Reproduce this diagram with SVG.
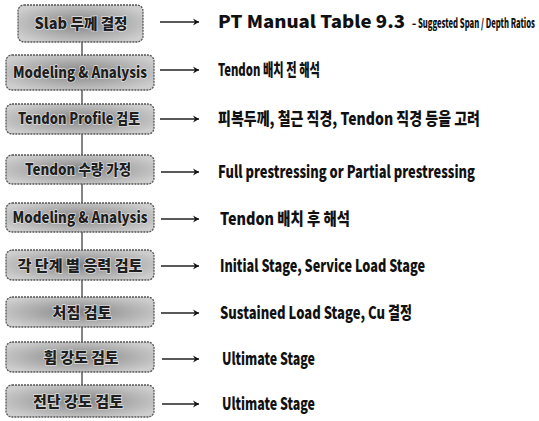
<svg xmlns="http://www.w3.org/2000/svg" width="539" height="421" viewBox="0 0 539 421">
<style>
.box{fill:url(#g);stroke:#555;stroke-width:1.3;stroke-dasharray:2 1}
.bt{font-family:"Noto Sans CJK KR","Liberation Sans",sans-serif;font-weight:900;font-size:15px;fill:#1e1e1e;text-anchor:middle;stroke:#e0e0e0;stroke-width:1.4;paint-order:stroke}
.rt{font-family:"Noto Sans CJK KR","Liberation Sans",sans-serif;font-weight:900;font-size:17px;fill:#111}
.sm{font-size:12.5px}
.ln{stroke:#333;stroke-width:1.2;fill:none}
.ar{stroke:#222;stroke-width:1.3;fill:none;marker-end:url(#ah)}
</style>
<defs>
<radialGradient id="g" cx="50%" cy="50%" r="60%">
<stop offset="0" stop-color="#858585"/>
<stop offset="1" stop-color="#cecece"/>
</radialGradient>
<marker id="ah" markerWidth="8" markerHeight="8" refX="7" refY="4" orient="auto" markerUnits="userSpaceOnUse">
<path d="M1,0.5 L7,4 L1,7.5 L3,4 Z" fill="#111"/>
</marker>
</defs>
<rect width="539" height="421" fill="#fff"/>
<g id="connectors">
<line class="ln" x1="82" y1="42" x2="82" y2="55"/>
<line class="ln" x1="82" y1="90" x2="82" y2="104"/>
<line class="ln" x1="82" y1="134" x2="82" y2="155"/>
<line class="ln" x1="82" y1="184" x2="82" y2="203"/>
<line class="ln" x1="82" y1="232" x2="82" y2="250"/>
<line class="ln" x1="82" y1="280" x2="82" y2="297"/>
<line class="ln" x1="82" y1="327" x2="82" y2="342"/>
<line class="ln" x1="82" y1="372" x2="82" y2="385"/>
<line class="ar" x1="160" y1="22" x2="199" y2="22"/>
<line class="ar" x1="160" y1="70" x2="199" y2="70"/>
<line class="ar" x1="160" y1="119" x2="199" y2="119"/>
<line class="ar" x1="161" y1="172" x2="199" y2="172"/>
<line class="ar" x1="161" y1="219" x2="199" y2="219"/>
<line class="ar" x1="161" y1="266" x2="199" y2="266"/>
<line class="ar" x1="161" y1="313" x2="199" y2="313"/>
<line class="ar" x1="162" y1="359" x2="199" y2="359"/>
<line class="ar" x1="162" y1="404" x2="199" y2="404"/>
</g>
<g id="n1"><rect class="box" x="18" y="5" width="125" height="37" rx="6"/><text class="bt" x="81" y="29" textLength="93" lengthAdjust="spacingAndGlyphs">Slab 두께 결정</text></g>
<g id="n2"><rect class="box" x="6" y="55" width="148" height="35" rx="6"/><text class="bt" x="80" y="78" textLength="134" lengthAdjust="spacingAndGlyphs">Modeling &amp; Analysis</text></g>
<g id="n3"><rect class="box" x="6" y="104" width="148" height="30" rx="6"/><text class="bt" x="79" y="124" textLength="122" lengthAdjust="spacingAndGlyphs">Tendon Profile 검토</text></g>
<g id="n4"><rect class="box" x="6" y="155" width="148" height="29" rx="6"/><text class="bt" x="78" y="175" textLength="106" lengthAdjust="spacingAndGlyphs">Tendon 수량 가정</text></g>
<g id="n5"><rect class="box" x="6" y="203" width="148" height="29" rx="6"/><text class="bt" x="80" y="223" textLength="135" lengthAdjust="spacingAndGlyphs">Modeling &amp; Analysis</text></g>
<g id="n6"><rect class="box" x="6" y="250" width="148" height="30" rx="6"/><text class="bt" x="80" y="271" textLength="125" lengthAdjust="spacingAndGlyphs">각 단계 별 응력 검토</text></g>
<g id="n7"><rect class="box" x="6" y="297" width="148" height="30" rx="6"/><text class="bt" x="82" y="318" textLength="59" lengthAdjust="spacingAndGlyphs">처짐 검토</text></g>
<g id="n8"><rect class="box" x="6" y="342" width="148" height="30" rx="6"/><text class="bt" x="81" y="363" textLength="75" lengthAdjust="spacingAndGlyphs">휨 강도 검토</text></g>
<g id="n9"><rect class="box" x="6" y="385" width="148" height="32" rx="6"/><text class="bt" x="78" y="407" textLength="90" lengthAdjust="spacingAndGlyphs">전단 강도 검토</text></g>
<g id="labels">
<text class="rt" x="218" y="28" textLength="187" lengthAdjust="spacingAndGlyphs">PT  Manual Table 9.3</text>
<text class="rt sm" x="412" y="28" textLength="123" lengthAdjust="spacingAndGlyphs">– Suggested Span / Depth Ratios</text>
<text class="rt" x="218" y="76" textLength="102" lengthAdjust="spacingAndGlyphs">Tendon  배치 전 해석</text>
<text class="rt" x="218" y="125" textLength="262" lengthAdjust="spacingAndGlyphs">피복두께, 철근 직경, Tendon 직경 등을 고려</text>
<text class="rt" x="218" y="178" textLength="257" lengthAdjust="spacingAndGlyphs">Full prestressing or Partial prestressing</text>
<text class="rt" x="220" y="225" textLength="130" lengthAdjust="spacingAndGlyphs">Tendon  배치 후 해석</text>
<text class="rt" x="220" y="272" textLength="205" lengthAdjust="spacingAndGlyphs">Initial Stage, Service Load Stage</text>
<text class="rt" x="220" y="319" textLength="192" lengthAdjust="spacingAndGlyphs">Sustained Load Stage, Cu 결정</text>
<text class="rt" x="222" y="365" textLength="93" lengthAdjust="spacingAndGlyphs">Ultimate Stage</text>
<text class="rt" x="222" y="410" textLength="93" lengthAdjust="spacingAndGlyphs">Ultimate Stage</text>
</g>
</svg>
